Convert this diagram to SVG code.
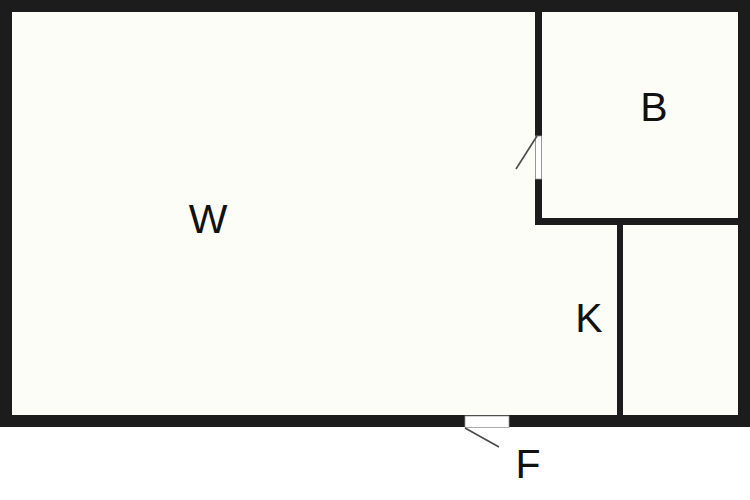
<svg xmlns="http://www.w3.org/2000/svg" width="750" height="500" viewBox="0 0 750 500">
<style>
.wall{fill:#1c1c1c}
.floor{fill:#fdfdf7}
.opening{fill:#ffffff;stroke:#9a9a9a;stroke-width:0.8}
.leaf{stroke:#4a4a4a;stroke-width:1.6;fill:none}
.lbl{font-family:"Liberation Sans",Arial,sans-serif;font-size:41px;fill:#111111;text-anchor:middle}
</style>
<rect x="0" y="0" width="750" height="500" fill="#ffffff"/>
<g id="floor">
<rect class="floor" x="12" y="12" width="726" height="403"/>
</g>
<g id="walls">
<path class="wall" fill-rule="evenodd" d="M0,0H750V427H0Z M12,12V415H738V12Z"/>
<rect class="wall" x="535" y="12" width="7" height="213"/>
<rect class="wall" x="535" y="218" width="203" height="7"/>
<rect class="wall" x="617" y="218" width="6" height="197"/>
</g>
<g id="door-B">
<rect class="opening" x="535.5" y="136" width="6" height="43"/>
<line class="leaf" x1="537" y1="136" x2="516" y2="169"/>
</g>
<g id="door-F">
<rect class="opening" x="465" y="416" width="44" height="11.5"/>
<line class="leaf" x1="465" y1="428" x2="499" y2="447"/>
</g>
<g id="room-W"><text class="lbl" x="208" y="233">W</text></g>
<g id="room-B"><text class="lbl" x="654" y="121">B</text></g>
<g id="room-K"><text class="lbl" x="589" y="332">K</text></g>
<g id="label-F"><text class="lbl" x="528" y="478">F</text></g>
</svg>
